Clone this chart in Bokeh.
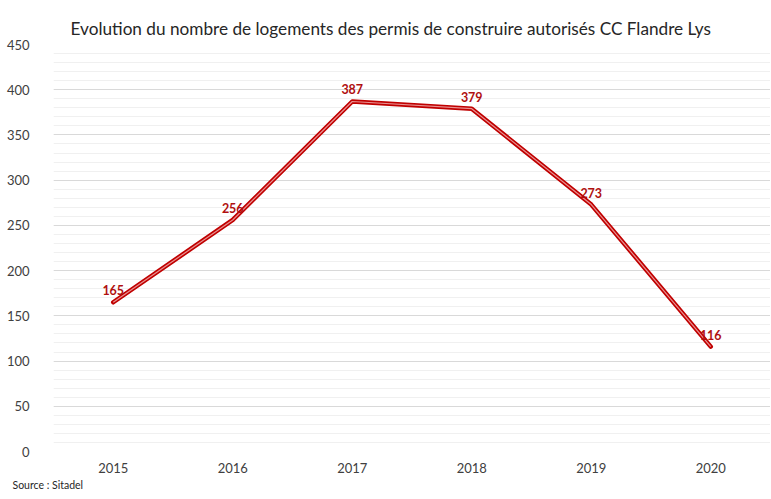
from bokeh.plotting import figure
from bokeh.models import ColumnDataSource, LabelSet, Title, FactorRange, Range1d, SingleIntervalTicker
from bokeh.core.properties import value
from bokeh.embed import file_html
from bokeh.resources import INLINE

years = ["2015", "2016", "2017", "2018", "2019", "2020"]
logements = [165, 256, 387, 379, 273, 116]
title_text = "Evolution du nombre de logements des permis de construire autorisés CC Flandre Lys"
source_text = "Source : Sitadel"

FONT = "Lato"

src = ColumnDataSource(dict(x=years, y=logements, lbl=[str(v) for v in logements]))

p = figure(x_range=FactorRange(*years, range_padding=0), y_range=Range1d(0, 450),
           width=770, height=491, output_backend="svg", toolbar_location=None,
           min_border_left=53, min_border_right=0, min_border_top=44, min_border_bottom=0)
p.outline_line_color = None
p.background_fill_color = "white"
p.border_fill_color = "white"

p.yaxis.ticker = SingleIntervalTicker(interval=50, num_minor_ticks=5)
p.ygrid.grid_line_color = "#d9d9d9"
p.ygrid.minor_grid_line_color = "#f0f0f0"
p.xgrid.grid_line_color = None

for ax in (p.xaxis, p.yaxis):
    ax.axis_line_color = None
    ax.major_tick_line_color = None
    ax.minor_tick_line_color = None
    ax.major_label_text_font = FONT
    ax.major_label_text_font_size = "13px"
    ax.major_label_text_color = "#404040"
p.yaxis.major_label_standoff = 18
p.xaxis.major_label_standoff = 5

p.line(x="x", y="y", source=src, line_color="#C00000", line_width=4.5, line_join="round", line_cap="round")
p.line(x="x", y="y", source=src, line_color="#e89090", line_width=1.2, line_join="round")

labels = LabelSet(x="x", y="y", text="lbl", source=src, text_align="center", text_baseline="bottom",
                  y_offset=7, text_font=value(FONT), text_font_size=value("12.5px"),
                  text_font_style=value("bold"), text_color=value("#B01010"))
p.add_layout(labels)

t = Title(text=title_text, align="left", offset=17, standoff=12,
          text_font=FONT, text_font_size="17.2px", text_font_style="normal", text_color="#262626")
p.add_layout(t, "above")
s = Title(text=source_text, align="left", offset=-41, standoff=2,
          text_font=FONT, text_font_size="10.5px", text_font_style="normal", text_color="#262626")
p.add_layout(s, "below")

open("out.html", "w").write(file_html(p, INLINE))
